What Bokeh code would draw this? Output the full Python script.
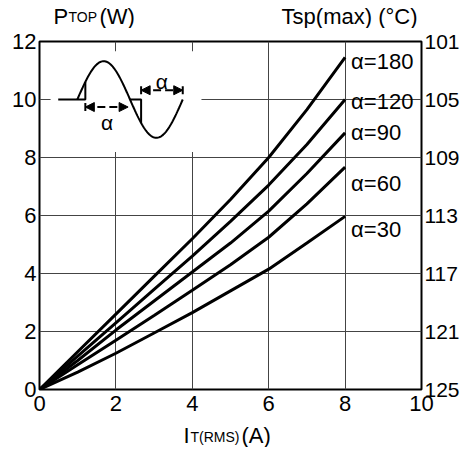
import numpy as np
from bokeh.plotting import figure
from bokeh.layouts import column
from bokeh.models import Range1d, LinearAxis, FixedTicker, Label, Arrow, NormalHead
from bokeh.core.properties import value
from bokeh.embed import file_html
from bokeh.resources import INLINE

# ---------------- data ----------------
current = [0, 1, 2, 3, 4, 5, 6, 7, 8]
p_a180 = [0, 1.3, 2.6, 3.9, 5.2, 6.55, 8.0, 9.65, 11.45]
p_a120 = [0, 1.15, 2.3, 3.45, 4.6, 5.8, 7.05, 8.45, 10.0]
p_a90 = [0, 1.0, 2.05, 3.05, 4.05, 5.05, 6.15, 7.45, 8.85]
p_a60 = [0, 0.85, 1.7, 2.55, 3.42, 4.3, 5.25, 6.4, 7.67]
p_a30 = [0, 0.6, 1.25, 1.95, 2.65, 3.4, 4.15, 5.05, 5.97]
series_names = ["α=180", "α=120", "α=90", "α=60", "α=30"]
series_values = [p_a180, p_a120, p_a90, p_a60, p_a30]

x_ticks = [0, 2, 4, 6, 8, 10]
y_ticks = [0, 2, 4, 6, 8, 10, 12]
t_ticks = [101, 105, 109, 113, 117, 121, 125]

# ---------------- styles ----------------
FONT = "Liberation Sans"
FRAME_W = 382
LEFT = 39
label_dy = [-4, -2, 0, -16, -13]   # pixel offsets of the curve labels

xr = Range1d(0, 10)

p = figure(frame_width=FRAME_W, frame_height=348, x_range=xr, y_range=Range1d(0, 12),
           output_backend="svg", toolbar_location=None,
           min_border_left=LEFT, min_border_right=38, min_border_top=13, min_border_bottom=32)
p.background_fill_color = "white"
p.border_fill_color = "white"
p.outline_line_color = "black"
p.outline_line_width = 2

p.extra_y_ranges = {"tsp": Range1d(start=125, end=101)}
right_axis = LinearAxis(y_range_name="tsp")
p.add_layout(right_axis, "right")

p.xaxis.ticker = FixedTicker(ticks=x_ticks)
p.yaxis.ticker = FixedTicker(ticks=y_ticks)
right_axis.ticker = FixedTicker(ticks=t_ticks)

for ax in [p.xaxis[0], p.yaxis[0], right_axis]:
    ax.major_tick_in = 0
    ax.major_tick_out = 0
    ax.minor_tick_in = 0
    ax.minor_tick_out = 0
    ax.axis_line_color = None
    ax.major_label_text_font = FONT
    ax.major_label_text_font_size = "22px"
    ax.major_label_text_color = "black"
right_axis.major_label_text_font_size = "21px"
p.xaxis.major_label_standoff = 6
p.yaxis.major_label_standoff = 3
right_axis.major_label_standoff = 3

p.xgrid.grid_line_color = "#444444"
p.ygrid.grid_line_color = "#444444"
p.xgrid.grid_line_width = 1
p.ygrid.grid_line_width = 1

# ---------------- inset schematic ----------------
p.quad(left=0.29, right=4.24, bottom=8.19, top=11.66, fill_color="white", line_color=None)
s0, s1, mid, amp = 0.99, 3.75, 10.0, 1.32
period = s1 - s0
def wave(x):
    return mid + amp * np.sin(2 * np.pi * (np.asarray(x) - s0) / period)
xs = np.linspace(s0, s1, 120)
p.line(xs, wave(xs), line_color="black", line_width=2)
trig1, zero2, trig2 = 1.20, s0 + period / 2, 2.66
p.line([0.49, trig1, trig1], [mid, mid, float(wave(trig1))], line_color="black", line_width=2)
p.line([zero2, trig2, trig2], [mid, mid, float(wave(trig2))], line_color="black", line_width=2)

def head():
    return NormalHead(size=9, fill_color="black", line_color="black", line_width=1)

y_low, y_up = 9.74, 10.32
p.add_layout(Arrow(x_start=trig1, y_start=y_low, x_end=2.32, y_end=y_low, start=head(), end=head(),
                   line_color="black", line_width=2, line_dash="8 4"))
p.add_layout(Arrow(x_start=trig2, y_start=y_up, x_end=s1, y_end=y_up, start=head(), end=head(),
                   line_color="black", line_width=2, line_dash="8 4"))
p.segment(x0=[trig1, trig2, s1], y0=[y_low - 0.14, y_up - 0.14, y_up - 0.14],
          x1=[trig1, trig2, s1], y1=[y_low + 0.14, y_up + 0.14, y_up + 0.14],
          line_color="black", line_width=2)
p.add_layout(Label(x=1.77, y=9.22, text="α", text_font=FONT, text_font_size="21px",
                   text_align="center", text_baseline="middle", text_color="black"))
p.add_layout(Label(x=3.20, y=10.63, text="α", text_font=FONT, text_font_size="21px",
                   text_align="center", text_baseline="middle", text_color="black"))

# ---------------- curves ----------------
for name, vals, dy in zip(series_names, series_values, label_dy):
    p.line(current, vals, line_color="black", line_width=3)
    p.add_layout(Label(x=current[-1], y=vals[-1], x_offset=6, y_offset=dy, text=name,
                       text_font=FONT, text_font_size="22px", text_align="left",
                       text_baseline="middle", text_color="black"))

# ---------------- title strips (above and below) ----------------
def strip(h):
    f = figure(frame_width=FRAME_W, frame_height=h, x_range=xr, y_range=Range1d(0, h),
               x_axis_type=None, y_axis_type=None, output_backend="svg", toolbar_location=None,
               min_border_left=LEFT, min_border_right=0, min_border_top=0, min_border_bottom=0)
    f.outline_line_color = None
    f.grid.visible = False
    f.background_fill_color = "white"
    f.border_fill_color = "white"
    return f

def txt(f, x, y, s, size, xo, align="left"):
    f.text(x=[x], y=[y], text=[s], text_font=value(FONT), text_font_size=size,
           x_offset=xo, text_align=align, text_baseline="alphabetic", text_color="black")

top = strip(28)
txt(top, 0, 11.7, "P", "22px", 14)
txt(top, 0, 11.7, "TOP", "14px", 29)
txt(top, 0, 11.7, "(W)", "22px", 60)
txt(top, 10, 11.7, "Tsp(max) (°C)", "22px", -4, align="right")

bottom = strip(26)
txt(bottom, 5, 12, "I", "22px", -47)
txt(bottom, 5, 11, "T(RMS)", "14px", -40)
txt(bottom, 5, 12, "(A)", "22px", 11)

layout = column(top, p, bottom)
open("out.html", "w").write(file_html(layout, INLINE))
